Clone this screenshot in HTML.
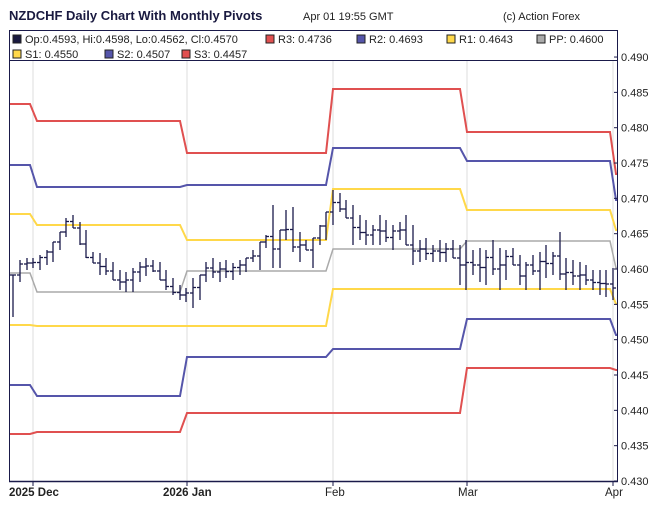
<!DOCTYPE html>
<html><head><meta charset="utf-8"><style>
body{margin:0;background:#fff;font-family:"Liberation Sans",sans-serif;}
svg text{font-family:"Liberation Sans",sans-serif;}
</style></head><body>
<svg id="s" width="650" height="501" xmlns="http://www.w3.org/2000/svg">
<rect width="650" height="501" fill="#fff"/>
<text x="9" y="20" font-size="13" font-weight="bold" fill="#1a1a40">NZDCHF Daily Chart With Monthly Pivots</text>
<text x="303" y="20" font-size="11" fill="#222">Apr 01 19:55 GMT</text>
<text x="503" y="20" font-size="11" fill="#222">(c) Action Forex</text>
<g stroke="#ddd" stroke-width="1">
<line x1="33" y1="30" x2="33" y2="481"/><line x1="187" y1="30" x2="187" y2="481"/>
<line x1="333" y1="30" x2="333" y2="481"/><line x1="467" y1="30" x2="467" y2="481"/>
<line x1="613" y1="30" x2="613" y2="481"/>
</g>
<g id="piv" fill="none" stroke-width="2"></g>
<g id="bars" stroke="#1a1a4a" stroke-width="1.3"></g>
<rect x="9.5" y="30.5" width="608" height="30" fill="#fff" stroke="#1a1a4a"/>
<g font-size="11" fill="#222">
<rect x="13" y="35" width="8" height="8" fill="#1a1a40" stroke="#222"/><text x="25" y="43">Op:0.4593, Hi:0.4598, Lo:0.4562, Cl:0.4570</text>
<rect x="266" y="35" width="8" height="8" fill="#e05050" stroke="#222"/><text x="278" y="43">R3: 0.4736</text>
<rect x="357" y="35" width="8" height="8" fill="#5555aa" stroke="#222"/><text x="369" y="43">R2: 0.4693</text>
<rect x="447" y="35" width="8" height="8" fill="#ffd84a" stroke="#222"/><text x="459" y="43">R1: 0.4643</text>
<rect x="537" y="35" width="8" height="8" fill="#aaa" stroke="#222"/><text x="549" y="43">PP: 0.4600</text>
<rect x="13" y="50" width="8" height="8" fill="#ffd84a" stroke="#222"/><text x="25" y="58">S1: 0.4550</text>
<rect x="105" y="50" width="8" height="8" fill="#5555aa" stroke="#222"/><text x="117" y="58">S2: 0.4507</text>
<rect x="182" y="50" width="8" height="8" fill="#e05050" stroke="#222"/><text x="194" y="58">S3: 0.4457</text>
</g>
<line x1="9.5" y1="60" x2="9.5" y2="481" stroke="#1a1a4a"/>
<line x1="9" y1="481.5" x2="618" y2="481.5" stroke="#1a1a4a" stroke-width="1.5"/>
<line x1="617.5" y1="60" x2="617.5" y2="481" stroke="#1a1a4a"/>
<g id="yax" font-size="11" fill="#222"></g>
<g font-size="11.5" fill="#222">
<text x="9" y="496" font-weight="bold">2025 Dec</text>
<text x="163" y="496" font-weight="bold">2026 Jan</text>
<text x="325" y="496">Feb</text>
<text x="458" y="496">Mar</text>
<text x="605" y="496">Apr</text>
</g>
<g stroke="#1a1a4a"><line x1="33" y1="481" x2="33" y2="486"/><line x1="187" y1="481" x2="187" y2="486"/><line x1="333" y1="481" x2="333" y2="486"/><line x1="467" y1="481" x2="467" y2="486"/><line x1="613" y1="481" x2="613" y2="486"/></g>
</svg>
<script>
const NS="http://www.w3.org/2000/svg";
function el(p,t,a){const e=document.createElementNS(NS,t);for(const k in a)e.setAttribute(k,a[k]);p.appendChild(e);return e;}
const yax=document.getElementById('yax');
for(let i=0;i<=12;i++){const y=481-i*35.33;el(yax,'line',{x1:614,y1:y,x2:618,y2:y,stroke:'#1a1a4a'});const t=el(yax,'text',{x:621,y:y+4});t.textContent=(0.430+i*0.005).toFixed(3);}
const piv=document.getElementById('piv');
const xs=[[9,30],[37,180],[187,326],[333,460],[467,610],[616,617]];
const lv={'#e05050':[[104,121,153,89,132,174],[434,432,413,413,368,370]],
'#5555aa':[[165,187,185,148,161,200],[385,396,357,349,319,335]],
'#ffd84a':[[214,225,240,189,210,230],[325,326,326,289,289,304]],
'#aaaaaa':[[273,292,271,249,241,268]]};
for(const c in lv){for(const arr of lv[c]){let pts=[];for(let i=0;i<arr.length;i++){pts.push(xs[i][0]+','+arr[i]);pts.push(xs[i][1]+','+arr[i]);}
el(piv,'polyline',{points:pts.join(' '),stroke:c,'stroke-width':c=='#aaaaaa'?1.5:2});}}
const b=[[13,275,317],[20,260,282],[27,258,270],[33,258,268],[40,255,270],[47,250,265],[53,242,262],[60,232,250],[66,218,237],[73,215,228],[80,222,245],[86,230,258],[93,252,263],[100,253,275],[106,258,275],[113,262,280],[120,270,290],[126,272,292],[133,268,292],[140,262,282],[146,258,276],[153,260,272],[160,262,280],[166,270,290],[173,278,295],[180,285,300],[186,288,302],[193,278,308],[200,275,300],[206,262,282],[213,258,278],[220,262,282],[226,260,278],[233,263,280],[240,260,275],[246,258,272],[253,250,262],[260,242,270],[266,235,248],[273,205,268],[280,230,268],[286,210,240],[293,207,252],[300,232,262],[306,240,250],[313,238,268],[320,225,245],[326,212,240],[333,190,225],[340,193,212],[346,200,218],[353,205,245],[360,215,240],[366,220,245],[373,225,245],[380,215,245],[386,220,242],[393,225,250],[400,222,240],[406,215,245],[413,225,265],[420,240,262],[426,238,260],[433,245,262],[440,240,262],[446,243,262],[453,240,258],[460,245,285],[466,240,290],[473,250,275],[480,248,282],[486,250,285],[493,240,275],[500,248,290],[506,250,280],[513,248,265],[520,255,285],[526,262,290],[533,255,275],[540,252,290],[546,245,278],[553,252,275],[560,232,280],[566,258,290],[573,260,285],[580,262,290],[586,265,285],[593,270,290],[600,270,295],[606,270,297],[613,268,300]];
const g=document.getElementById('bars');let prev=270;
b.forEach(([x,h,l],i)=>{const o=Math.min(Math.max(prev,h),l);const nx=b[i+1];let c=nx?Math.min(Math.max((nx[1]+nx[2])/2,h),l):(h+l)/2+4;
el(g,'line',{x1:x,y1:h,x2:x,y2:l});el(g,'line',{x1:x-3,y1:o,x2:x,y2:o});el(g,'line',{x1:x,y1:c,x2:x+3,y2:c});prev=c;});
</script>
</body></html>
